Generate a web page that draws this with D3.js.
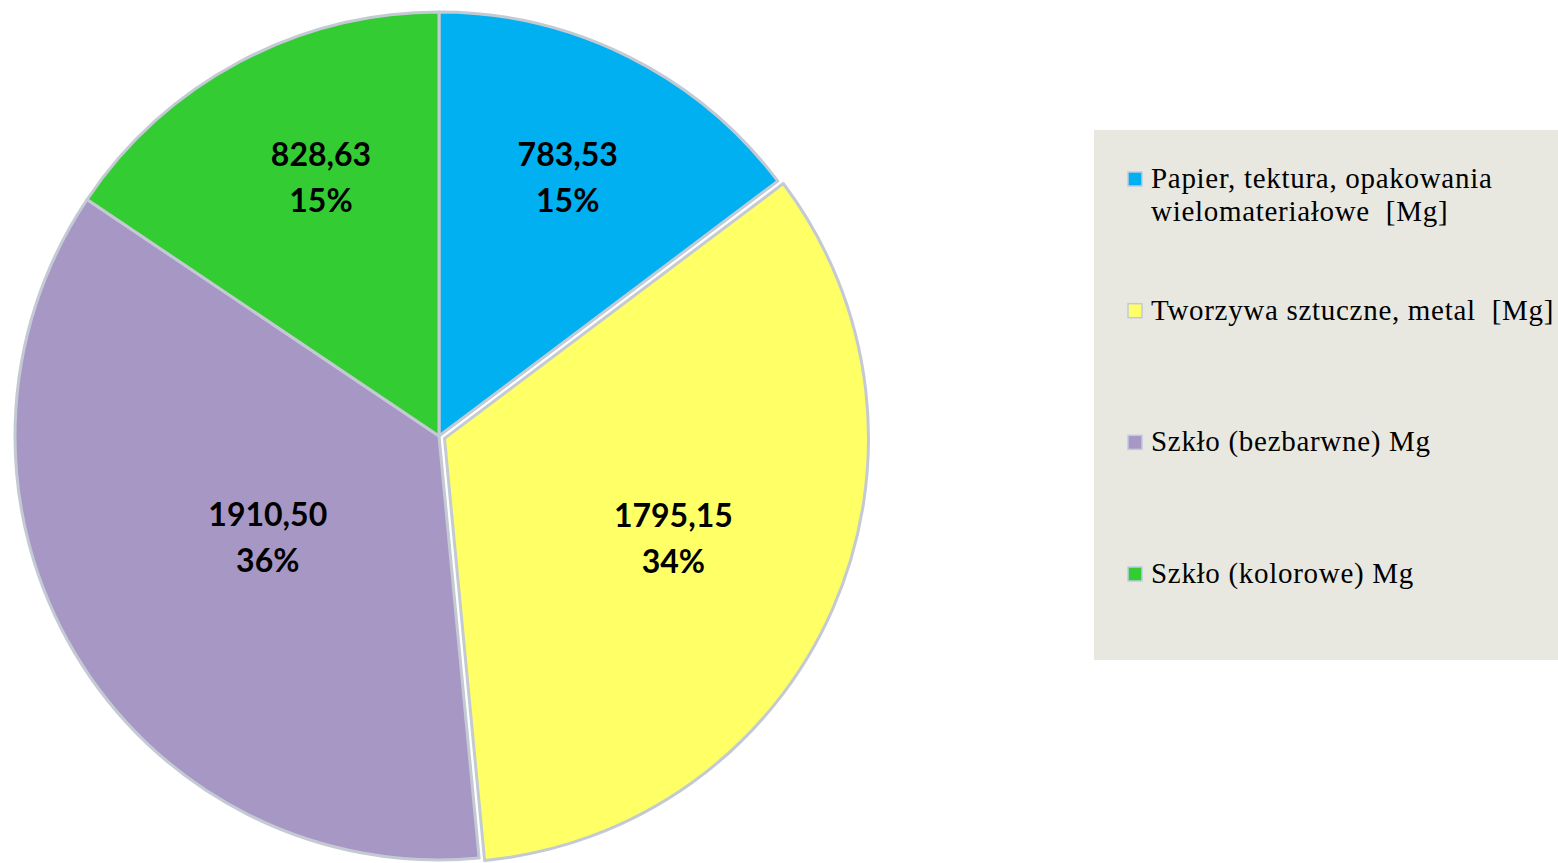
<html>
<head>
    <meta charset="utf-8">
    <script src="https://d3js.org/d3.v7.min.js"></script>
    <style>
        body { margin: 0; background: #fff; }
        .lbl { font-family: Lato, "Open Sans", sans-serif; font-weight: bold; font-size: 32px; fill: #000; }
        .leg text { font-family: "Liberation Serif", serif; font-size: 29px; letter-spacing: 0.7px; fill: #000; white-space: pre; }
    </style>
</head>
<body>
<svg width="1558" height="863"></svg>
<script>
    const categories = [
        ["Papier, tektura, opakowania", "wielomateriałowe  [Mg]"],
        ["Tworzywa sztuczne, metal  [Mg]"],
        ["Szkło (bezbarwne) Mg"],
        ["Szkło (kolorowe) Mg"]
    ];
    const values = [783.53, 1795.15, 1910.50, 828.63];
    const valueLabels = ["783,53", "1795,15", "1910,50", "828,63"];
    const percentLabels = ["15%", "34%", "36%", "15%"];
    const colors = ["#00b0f0", "#ffff66", "#a797c4", "#33cc33"];

    // layout tweaks: label distance as share of radius, label angle shift (deg), slice pull-out (px)
    const labelPos = [0.68, 0.59, 0.47, 0.67];
    const labelTurn = [0, 0, 0, 3.5];
    const explode = [0, 6, 0, 0];

    const svg = d3.select("svg");
    const cx = 439, cy = 436, radius = 424;

    const pie = d3.pie().sort(null).value(d => d)(values);
    const arc = d3.arc().innerRadius(0).outerRadius(radius);

    const chartArea = svg.append("g").attr("transform", `translate(${cx},${cy})`);

    pie.forEach((p, i) => {
        const mid = (p.startAngle + p.endAngle) / 2;
        const ox = Math.sin(mid) * explode[i], oy = -Math.cos(mid) * explode[i];
        const g = chartArea.append("g").attr("transform", `translate(${ox},${oy})`);
        g.append("path")
            .attr("d", arc(p))
            .attr("fill", colors[i])
            .attr("stroke", "#c4cad4")
            .attr("stroke-width", 3)
            .attr("stroke-linejoin", "round");

        const la = mid + labelTurn[i] * Math.PI / 180;
        const lr = radius * labelPos[i];
        const lx = Math.sin(la) * lr, ly = -Math.cos(la) * lr;
        g.append("text").attr("class", "lbl")
            .attr("x", lx).attr("y", ly - 12)
            .attr("text-anchor", "middle")
            .text(valueLabels[i]);
        g.append("text").attr("class", "lbl")
            .attr("x", lx).attr("y", ly + 34)
            .attr("text-anchor", "middle")
            .text(percentLabels[i]);
    });

    // legend
    const leg = svg.append("g").attr("class", "leg");
    leg.append("rect")
        .attr("x", 1094).attr("y", 130)
        .attr("width", 464).attr("height", 530)
        .attr("fill", "#e8e8e0");

    const rowY = d3.scalePoint().domain(d3.range(categories.length)).range([188, 583]);

    categories.forEach((lines, i) => {
        const y = rowY(i);
        leg.append("rect")
            .attr("x", 1128).attr("y", y - 16)
            .attr("width", 14).attr("height", 14)
            .attr("fill", colors[i])
            .attr("stroke", "#bccbe0")
            .attr("stroke-width", 1.5);
        lines.forEach((t, j) => {
            leg.append("text")
                .attr("x", 1151).attr("y", y + j * 33)
                .text(t);
        });
    });
</script>
</body>
</html>
